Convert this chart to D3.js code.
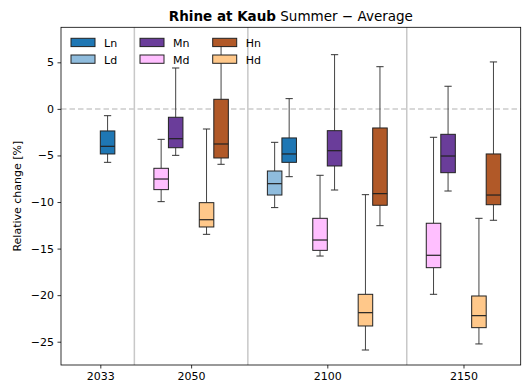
<!DOCTYPE html>
<html>
<head>
<meta charset="utf-8">
<script src="https://cdn.jsdelivr.net/npm/d3@7.9.0/dist/d3.min.js"></script>
<style>
  body { margin: 0; background: #fff; }
  svg { font-family: "DejaVu Sans", sans-serif; }
</style>
</head>
<body>
<svg id="chart" width="525" height="382"></svg>
<script>
// Horizons and series
const years = ["2033", "2050", "2100", "2150"];
const series = ["Ld", "Ln", "Md", "Mn", "Hd", "Hn"];
const colorsBySeries = ["#8fbcdd", "#1f77b4", "#ffbfff", "#6a3d9a", "#ffc88a", "#b15928"];

// Box stats per year: [whisker low, q1, median, q3, whisker high], null = no box
const Ld = [null, null, [-10.6, -9.25, -8.03, -6.67, -3.59], null];
const Ln = [[-5.74, -4.84, -4.02, -2.37, -0.73], null, [-7.28, -5.74, -4.84, -3.12, 1.1], null];
const Md = [null, [-9.96, -8.67, -7.53, -6.38, -3.27], [-15.8, -15.19, -14.08, -11.75, -7.13], [-19.91, -17.05, -15.72, -12.28, -3.05]];
const Mn = [null, [-4.99, -4.17, -3.2, -0.9, 4.39], [-8.71, -6.13, -4.49, -2.34, 5.82], [-8.82, -6.85, -5.06, -2.73, 2.43]];
const Hd = [null, [-13.47, -12.68, -11.9, -10.07, -2.16], [-25.89, -23.31, -21.88, -19.91, -9.21], [-25.24, -23.49, -22.2, -20.09, -11.75]];
const Hn = [null, [-5.95, -5.27, -3.77, 1.03, 6.9], [-12.54, -10.35, -9.1, -2.05, 4.53], [-11.96, -10.29, -9.25, -4.84, 5.04]];
const seriesData = [Ld, Ln, Md, Mn, Hd, Hn];

const yTicks = [5, 0, -5, -10, -15, -20, -25];

const svg = d3.select("#chart");
const mLeft = 61, mRight = 520.7, mTop = 27.3, mBottom = 365;

// Slot layout: one slot per scenario pair (L, M, H) that has data,
// 1 unit between pairs inside a year, 1.5 units between years
const pairs = [0, 1, 2];
let slot = 0;
const groups = [];
years.forEach((yr, yi) => {
  const present = pairs.filter(p => seriesData[2 * p][yi] || seriesData[2 * p + 1][yi]);
  const slots = present.map((p, k) => ({ pair: p, x: slot + k }));
  groups.push({ year: yr, yi, slots, center: d3.mean(slots, s => s.x), first: slot, last: slot + slots.length - 1 });
  slot += slots.length - 1 + 1.5;
});

const x = d3.scaleLinear().domain([-0.866, 9.26]).range([mLeft, mRight]);
const y = d3.scaleLinear().domain([-27.5, 8.76]).range([mBottom, mTop]);

// group separators
for (let i = 0; i < groups.length - 1; i++) {
  const sx = x((groups[i].last + groups[i + 1].first) / 2);
  svg.append("line")
    .attr("x1", sx).attr("x2", sx).attr("y1", mTop).attr("y2", mBottom)
    .attr("stroke", "#c8c8c8").attr("stroke-width", 1.5);
}

// zero line
svg.append("line")
  .attr("x1", mLeft).attr("x2", mRight).attr("y1", y(0)).attr("y2", y(0))
  .attr("stroke", "#cccccc").attr("stroke-width", 1.5).attr("stroke-dasharray", "5.5,3");

// boxes
const off = 0.16, bw = 0.32;
groups.forEach(g => {
  g.slots.forEach(s => {
    [0, 1].forEach(k => {
      const si = 2 * s.pair + k;
      const st = seriesData[si][g.yi];
      if (!st) return;
      const cx = x(s.x + (k === 0 ? -off : off));
      const w = x(bw) - x(0);
      const [lo, q1, med, q3, hi] = st;
      const gbox = svg.append("g");
      gbox.append("line").attr("x1", cx).attr("x2", cx).attr("y1", y(hi)).attr("y2", y(q3))
        .attr("stroke", "#444").attr("stroke-width", 1);
      gbox.append("line").attr("x1", cx).attr("x2", cx).attr("y1", y(q1)).attr("y2", y(lo))
        .attr("stroke", "#444").attr("stroke-width", 1);
      [lo, hi].forEach(v => {
        gbox.append("line").attr("x1", cx - w / 4).attr("x2", cx + w / 4).attr("y1", y(v)).attr("y2", y(v))
          .attr("stroke", "#333").attr("stroke-width", 1);
      });
      gbox.append("rect")
        .attr("x", cx - w / 2).attr("y", y(q3)).attr("width", w).attr("height", y(q1) - y(q3))
        .attr("fill", colorsBySeries[si]).attr("stroke", "#222").attr("stroke-width", 1);
      gbox.append("line").attr("x1", cx - w / 2).attr("x2", cx + w / 2).attr("y1", y(med)).attr("y2", y(med))
        .attr("stroke", "#222").attr("stroke-width", 1.2);
    });
  });
});

// axes
const yAxis = d3.axisLeft(y).tickValues(yTicks).tickSize(3.5).tickPadding(3.5)
  .tickFormat(d => d < 0 ? "\u2212" + Math.abs(d) : d);
const gy = svg.append("g").attr("transform", `translate(${mLeft},0)`).call(yAxis);
const xAxis = d3.axisBottom(x).tickValues(groups.map(g => g.center)).tickSize(3.5).tickPadding(3.5)
  .tickFormat((d, i) => groups[i].year);
const gx = svg.append("g").attr("transform", `translate(0,${mBottom})`).call(xAxis);
[gx, gy].forEach(g => {
  g.select(".domain").remove();
  g.selectAll("text").attr("font-size", 11).attr("fill", "#000").attr("font-family", "DejaVu Sans");
  g.selectAll("line").attr("stroke", "#000").attr("stroke-width", 0.8);
});

// frame
svg.append("rect").attr("x", mLeft).attr("y", mTop).attr("width", mRight - mLeft).attr("height", mBottom - mTop)
  .attr("fill", "none").attr("stroke", "#000").attr("stroke-width", 0.8);

// y label
svg.append("text")
  .attr("transform", `translate(21,${(mTop + mBottom) / 2}) rotate(-90)`)
  .attr("text-anchor", "middle").attr("font-size", 11)
  .text("Relative change [%]");

// title
const title = svg.append("text").attr("x", (mLeft + mRight) / 2).attr("y", 21)
  .attr("text-anchor", "middle").attr("font-size", 13.5);
title.append("tspan").attr("font-weight", "bold").text("Rhine at Kaub");
title.append("tspan").text(" Summer \u2212 Average");

// legend: columns L, M, H; rows n, d
const legendCols = [71, 140, 212.7];
const legendRows = [38.3, 55];
pairs.forEach(p => {
  [1, 0].forEach((k, r) => {
    const si = 2 * p + k;
    const lx = legendCols[p], ly = legendRows[r];
    svg.append("rect").attr("x", lx).attr("y", ly).attr("width", 24).attr("height", 8.3)
      .attr("fill", colorsBySeries[si]).attr("stroke", "#222").attr("stroke-width", 1);
    svg.append("text").attr("x", lx + 33).attr("y", ly + 8.5)
      .attr("font-size", 11).text(series[si]);
  });
});
</script>
</body>
</html>
